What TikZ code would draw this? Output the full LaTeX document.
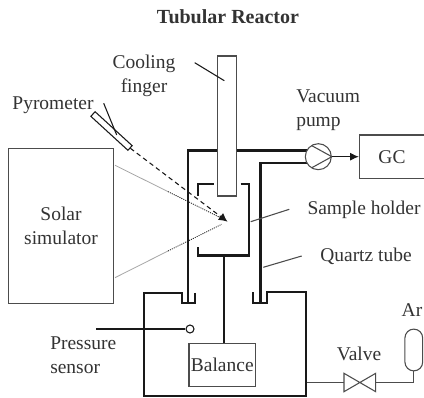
\documentclass[tikz,border=0pt]{standalone}
\usepackage{fontspec}
\setmainfont{Liberation Serif}
\usetikzlibrary{arrows.meta}
\definecolor{ink}{gray}{0.1}
\definecolor{soft}{gray}{0.3}
\definecolor{txt}{gray}{0.2}
\tikzset{
  lbl/.style={text=txt,font=\fontsize{14.6}{18.3}\selectfont,inner sep=0pt,align=center},
  lblleft/.style={lbl,align=left,anchor=west},
  box/.style={draw=soft,line width=0.8pt,inner sep=0pt},
  heavy/.style={draw=ink,line width=1.6pt,line join=miter},
  thin/.style={draw=ink,line width=0.8pt},
  raygray/.style={draw=gray!70,line width=0.6pt},
  raydot/.style={draw=ink,line width=0.6pt,dash pattern=on 0.8pt off 0.8pt},
}
\begin{document}
\begin{tikzpicture}[x=0.75pt,y=-0.75pt]
\useasboundingbox (0,0) rectangle (424,398);
\fill[white] (0,0) rectangle (424,398);
\node[lbl,font=\fontsize{15}{18}\selectfont\bfseries] (title) at (228,17) {Tubular Reactor};
% tube and chamber
\draw[heavy] (188.3,303) -- (188.3,150.5) -- (311,150.5);
\draw[heavy] (311,162.7) -- (260.5,162.7) -- (260.5,303);
\draw[heavy] (195.3,293) -- (195.3,303) -- (182.3,303) -- (182.3,293.3) -- (143.7,293.3) -- (143.7,395.7) -- (305.7,395.7) -- (305.7,292.3) -- (266.7,292.3) -- (266.7,303) -- (253.3,303) -- (253.3,292.3);
% sample holder
\draw[heavy] (198.3,196) -- (198.3,184.3) -- (214,184.3);
\draw[heavy] (240.7,184.3) -- (248.6,184.3) -- (248.6,255.5) -- (198.3,255.5) -- (198.3,246.7);
\coordinate (stemtop) at (224,255.5);
% cooling finger
\node[box,minimum width=14.25pt,minimum height=105pt,fill=white] (finger) at (226.8,126) {};
\coordinate (fingerlead) at (194.7,62.7);
\coordinate (fingerend) at (224.3,80.7);
\draw[thin] (fingerlead) -- (fingerend);
% solar
\node[box,lbl,draw=soft,minimum width=79pt,minimum height=116.6pt] (solar) at (61,226) {Solar\\simulator};
% pyrometer
\node[draw=ink,line width=0.8pt,minimum width=37.7pt,minimum height=4.7pt,inner sep=0pt,rotate=-42.5] (pyro) at (111.5,131) {};
\coordinate (pyrolead) at (103.7,103.3);
\coordinate (pyroleadend) at (116.7,135);
\draw[thin] (pyrolead) -- (pyroleadend);
\coordinate (target) at (227.5,221.7);
\draw[draw=ink,line width=0.8pt,dash pattern=on 3.4pt off 2.6pt,-{Latex[length=6.5pt,width=6.5pt]}] (pyro.east) -- (target);
% rays
\coordinate (sol1) at (115,165.3);
\coordinate (mid1) at (168,191.6);
\coordinate (t1) at (221.7,218.3);
\coordinate (sol2) at (115,277.7);
\coordinate (mid2) at (168,251);
\coordinate (t2) at (221.7,224.3);
\draw[raygray] (sol1) -- (mid1);
\draw[raydot] (mid1) -- (t1);
\draw[raygray] (sol2) -- (mid2);
\draw[raydot] (mid2) -- (t2);
% balance
\node[box,lbl,minimum width=50pt,minimum height=32pt] (balance) at (222.3,365.3) {Balance};
\draw[draw=ink,line width=1.3pt] (stemtop) -- (stemtop |- balance.north);
% pressure sensor
\node[circle,draw=ink,line width=0.8pt,minimum size=6pt,inner sep=0pt] (psens) at (190,329) {};
\coordinate (pslead) at (96,329);
\draw[thin] (pslead) -- (psens);
% pump and GC
\node[circle,draw=soft,line width=0.8pt,minimum size=19.5pt,inner sep=0pt,fill=white] (pump) at (318.3,156.7) {};
\coordinate (pumpa) at (311.5,145.5);
\coordinate (pumpb) at (311.5,167.9);
\draw[draw=soft,line width=0.8pt] (pumpa) -- (pump.east) -- (pumpb);
\node[box,lbl,minimum width=49pt,minimum height=32.5pt] (gc) at (392,156.7) {GC};
\draw[thin,-{Latex[length=6.5pt,width=6pt]}] (pump) -- (gc);
% leaders
\coordinate (sh1) at (250.7,221.7); \coordinate (sh2) at (289.3,209.3);
\draw[draw=soft,line width=0.8pt] (sh1) -- (sh2);
\coordinate (qt1) at (263.3,267.3); \coordinate (qt2) at (301.7,256);
\draw[draw=soft,line width=0.8pt] (qt1) -- (qt2);
% valve and Ar
\coordinate (vl) at (344,382.3);
\coordinate (vr) at (375.7,382.3);
\draw[draw=soft,line width=0.8pt] (344,373.3) -- (375.7,391.7) -- (375.7,373.3) -- (344,391.7) -- cycle;
\node[box,rounded corners=6.6pt,minimum width=13.3pt,minimum height=31.3pt] (ar) at (413.8,350) {};
\coordinate (boxout) at (306.5,382.3);
\draw[draw=soft,line width=0.8pt] (boxout) -- (vl);
\draw[draw=soft,line width=0.8pt] (vr) -| (ar.south);
% labels
\node[lbl] (l1) at (144,76) {Cooling\\finger};
\node[lbl] (l2) at (53,105) {Pyrometer};
\node[lblleft] (l3) at (296,110.5) {Vacuum\\pump};
\node[lbl] (l4) at (364,210) {Sample holder};
\node[lbl] (l5) at (366,256) {Quartz tube};
\node[lblleft] (l6) at (50,355) {Pressure\\sensor};
\node[lbl] (l7) at (359,354) {Valve};
\node[lbl] (l8) at (412,310) {Ar};
\end{tikzpicture}
\end{document}
